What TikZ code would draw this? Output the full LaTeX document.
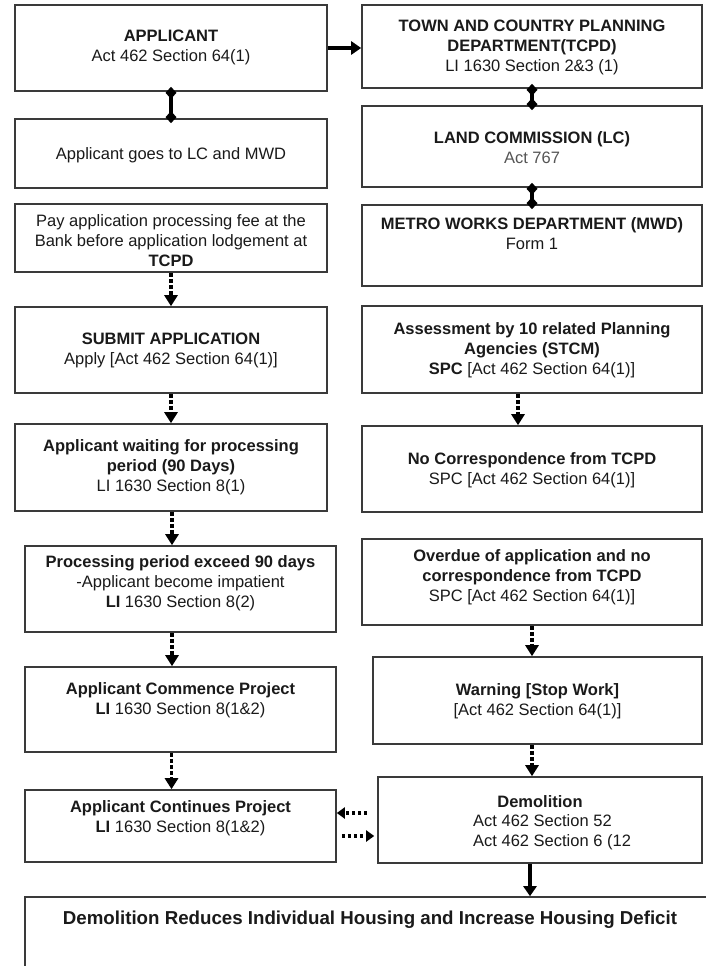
\documentclass[tikz,border=0pt]{standalone}
\usepackage{fontspec}
\setmainfont{Liberation Sans}
\usetikzlibrary{arrows.meta}
\definecolor{boxc}{HTML}{3A3A3A}
\definecolor{txtc}{HTML}{1A1A1A}
\definecolor{grayt}{HTML}{555555}
\begin{document}
\begin{tikzpicture}[x=1pt,y=-1pt,
  box/.style={draw=boxc, line width=1.6pt, rectangle, inner sep=0pt},
  txt/.style={align=center, font=\fontsize{16.5}{20}\selectfont, text=txtc, inner sep=0pt},
  diaconn/.style={line width=3.8pt, {Diamond[length=12pt,width=11pt]}-{Diamond[length=12pt,width=11pt]}, shorten <=-5pt, shorten >=-5pt},
  dasharrow/.style={line width=3.8pt, dash pattern=on 4pt off 2pt, -{Triangle[length=11pt,width=13pt]}},
  dotarrow/.style={line width=4pt, dash pattern=on 3pt off 3pt, -{Triangle[length=8pt,width=11pt]}},
  solidarrow/.style={line width=3.5pt, -{Triangle[length=10pt,width=13pt]}}
]
\useasboundingbox (0,0) rectangle (706,966);
\clip (0,0) rectangle (706,966);
\fill[white] (0,0) rectangle (706,966);

% left column boxes
\node[box, minimum width=312pt, minimum height=86pt] (app) at (171,48) {};
\node[box, minimum width=312pt, minimum height=69pt] (goes) at (171,153.5) {};
\node[box, minimum width=312pt, minimum height=68pt] (pay) at (171,238) {};
\node[box, minimum width=312pt, minimum height=86pt] (sub) at (171,350) {};
\node[box, minimum width=312pt, minimum height=87pt] (wait) at (171,467.5) {};
\node[box, minimum width=311pt, minimum height=86pt] (proc) at (180.5,589) {};
\node[box, minimum width=311pt, minimum height=85pt] (comm) at (180.5,709.5) {};
\node[box, minimum width=311pt, minimum height=72pt] (cont) at (180.5,826) {};

% right column boxes
\node[box, minimum width=340pt, minimum height=83pt] (tcpd) at (532,46.5) {};
\node[box, minimum width=340pt, minimum height=81pt] (lc) at (532,146.5) {};
\node[box, minimum width=340pt, minimum height=81pt] (mwd) at (532,245.5) {};
\node[box, minimum width=340pt, minimum height=87pt] (assess) at (532,349.5) {};
\node[box, minimum width=340pt, minimum height=86pt] (nocorr) at (532,469) {};
\node[box, minimum width=340pt, minimum height=86pt] (over) at (532,582) {};
\node[box, minimum width=329pt, minimum height=87pt] (warn) at (537.5,700.5) {};
\node[box, minimum width=324pt, minimum height=86pt] (demo) at (540,820) {};
\node[box, minimum width=710pt, minimum height=103pt] (bot) at (380,948.5) {};

% texts
\node[txt] (app-t) at (171,47.5) {\textbf{APPLICANT}\\Act 462 Section 64(1)};
\node[txt] (goes-t) at (171,155) {Applicant goes to LC and MWD};
\node[txt] (pay-t) at (171,241) {Pay application processing fee at the\\Bank before application lodgement at\\\textbf{TCPD}};
\node[txt] (sub-t) at (171,350.5) {\textbf{SUBMIT APPLICATION}\\Apply [Act 462 Section 64(1)]};
\node[txt] (wait-t) at (171,467.5) {\textbf{Applicant waiting for processing}\\\textbf{period (90 Days)}\\LI 1630 Section 8(1)};
\node[txt] (proc-t) at (180.5,583) {\textbf{Processing period exceed 90 days}\\-Applicant become impatient\\\textbf{LI} 1630 Section 8(2)};
\node[txt] (comm-t) at (180.5,700) {\textbf{Applicant Commence Project}\\\textbf{LI} 1630 Section 8(1\&2)};
\node[txt] (cont-t) at (180.5,818) {\textbf{Applicant Continues Project}\\\textbf{LI} 1630 Section 8(1\&2)};

\node[txt] (tcpd-t) at (532,47) {\textbf{TOWN AND COUNTRY PLANNING}\\\textbf{DEPARTMENT(TCPD)}\\LI 1630 Section 2\&3 (1)};
\node[txt] (lc-t) at (532,147.5) {\textbf{LAND COMMISSION (LC)}\\\textcolor{grayt}{Act 767}};
\node[txt] (mwd-t) at (532,234) {\textbf{METRO WORKS DEPARTMENT (MWD)}\\Form 1};
\node[txt] (assess-t) at (532,350) {\textbf{Assessment by 10 related Planning}\\\textbf{Agencies (STCM)}\\\textbf{SPC} [Act 462 Section 64(1)]};
\node[txt] (nocorr-t) at (532,470) {\textbf{No Correspondence from TCPD}\\SPC [Act 462 Section 64(1)]};
\node[txt] (over-t) at (532,577) {\textbf{Overdue of application and no}\\\textbf{correspondence from TCPD}\\SPC [Act 462 Section 64(1)]};
\node[txt] (warn-t) at (537.5,701.5) {\textbf{Warning [Stop Work]}\\{}[Act 462 Section 64(1)]};
\node[txt] (demo-t) at (540,802) {\textbf{Demolition}};
\node[txt, align=left, anchor=west] (demo-a) at (473,832.5) {Act 462 Section 52\\Act 462 Section 6 (12};
\node[txt, font=\fontsize{18.7}{22}\selectfont] (bot-t) at (370,920) {\textbf{Demolition Reduces Individual Housing and Increase Housing Deficit}};

% connectors
\draw[solidarrow] (app.east) -- (app.east -| tcpd.west);
\draw[diaconn] (app.south) -- (goes.north);
\draw[diaconn] (tcpd.south) -- (lc.north);
\draw[diaconn] (lc.south) -- (mwd.north);
\draw[dasharrow] (pay.south) -- (sub.north);
\draw[dasharrow] (sub.south) -- (wait.south |- wait.north);
\draw[dasharrow] ([xshift=1pt]wait.south) -- ([xshift=1pt]wait.south |- proc.north);
\draw[dasharrow] ([xshift=-8.5pt]proc.south) -- ([xshift=-8.5pt]comm.north);
\draw[dasharrow] ([xshift=-9pt]comm.south) -- ([xshift=-9pt]cont.north);
\draw[dasharrow] ([xshift=-14pt]assess.south) -- ([xshift=-14pt]nocorr.north);
\draw[dasharrow] (over.south) -- (over.south |- warn.north);
\draw[dasharrow] (warn.south -| over.south) -- (demo.north -| over.south);
\draw[solidarrow] ([xshift=-2pt]demo.south -| over.south) -- ([xshift=-2pt]bot.north -| over.south);
\draw[dotarrow] ([shift={(-10pt,7pt)}]demo.west) -- ([yshift=7pt]demo.west -| cont.east);
\draw[dotarrow] ([shift={(5pt,-16pt)}]demo.west -| cont.east) -- ([shift={(-3pt,-16pt)}]demo.west);
\end{tikzpicture}
\end{document}
